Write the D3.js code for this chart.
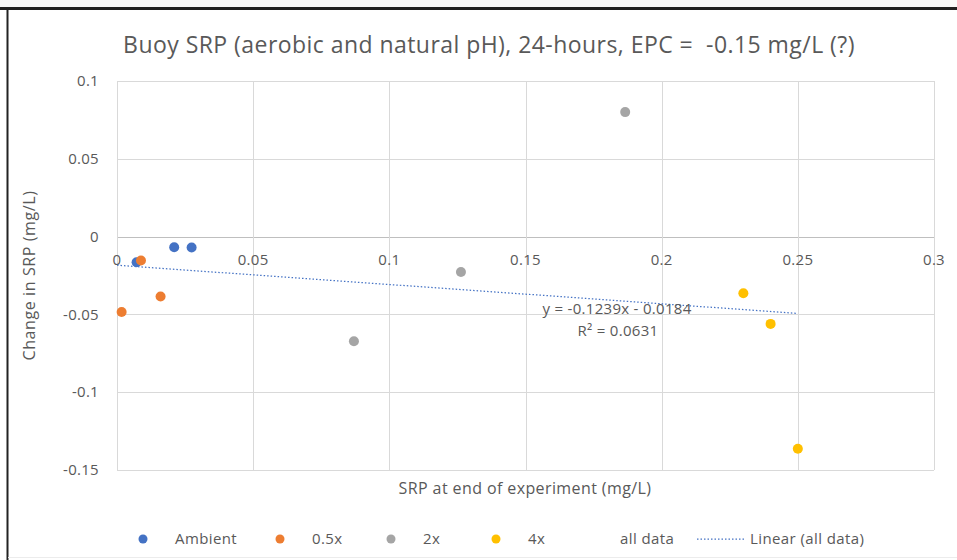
<!DOCTYPE html>
<html>
<head>
<meta charset="utf-8">
<script src="https://cdn.jsdelivr.net/npm/d3@7"></script>
<style>
  body { margin: 0; background: #fff; }
  svg { display: block; }
  text { font-family: "Open Sans", "Noto Sans", sans-serif; fill: #595959; }
</style>
</head>
<body>
<div id="chart"></div>
<script>
// data
const ambientX = [0.0072, 0.0210, 0.0274]
const ambientY = [-0.0165, -0.0068, -0.0070]

const halfX = [0.0088, 0.0160, 0.0017]
const halfY = [-0.0154, -0.0385, -0.0485]

const twoX = [0.0870, 0.1263, 0.1866]
const twoY = [-0.0672, -0.0227, 0.0800]

const fourX = [0.2300, 0.2400, 0.2500]
const fourY = [-0.0364, -0.0561, -0.1364]

const slope = -0.1239
const intercept = -0.0184
const r2 = 0.0631

const xTicks = [0, 0.05, 0.1, 0.15, 0.2, 0.25, 0.3]
const yTicks = [0.1, 0.05, 0, -0.05, -0.1, -0.15]

const series = [
    {name: "Ambient", color: "#4472C4", xs: ambientX, ys: ambientY},
    {name: "0.5x", color: "#ED7D31", xs: halfX, ys: halfY},
    {name: "2x", color: "#A5A5A5", xs: twoX, ys: twoY},
    {name: "4x", color: "#FFC000", xs: fourX, ys: fourY}
]

const width = 957, height = 560

const svg = d3.select("#chart").append("svg")
    .attr("width", width)
    .attr("height", height)

// outer frame (screenshot edges)
svg.append("rect").attr("x", 0).attr("y", 0).attr("width", width).attr("height", 8).attr("fill", "#fafafa")
svg.append("line").attr("x1", 0).attr("x2", width).attr("y1", 8.5).attr("y2", 8.5)
    .attr("stroke", "#222").attr("stroke-width", 3)
svg.append("line").attr("x1", 7.5).attr("x2", 7.5).attr("y1", 8).attr("y2", height)
    .attr("stroke", "#222").attr("stroke-width", 2)
svg.append("line").attr("x1", 8).attr("x2", width).attr("y1", 557.5).attr("y2", 557.5)
    .attr("stroke", "#ececec")

const x = d3.scaleLinear().domain([0, 0.3]).range([117, 934])
const y = d3.scaleLinear().domain([-0.15, 0.1]).range([470, 81])

// gridlines
svg.append("g")
    .selectAll("line").data(yTicks).join("line")
    .attr("x1", x(0)).attr("x2", x(0.3))
    .attr("y1", d => Math.round(y(d)) + 0.5).attr("y2", d => Math.round(y(d)) + 0.5)
    .attr("stroke", d => d === 0 ? "#bfbfbf" : "#d9d9d9")

svg.append("g")
    .selectAll("line").data(xTicks).join("line")
    .attr("x1", d => Math.round(x(d)) + 0.5).attr("x2", d => Math.round(x(d)) + 0.5)
    .attr("y1", y(0.1)).attr("y2", y(-0.15))
    .attr("stroke", "#d9d9d9")

// y tick labels
svg.append("g")
    .selectAll("text").data(yTicks).join("text")
    .attr("x", 99).attr("y", d => y(d))
    .attr("dy", "0.35em")
    .attr("text-anchor", "end")
    .attr("font-size", 15)
    .attr("letter-spacing", 0.3)
    .text(d => String(d))

// x tick labels sit on the zero line, like excel's crossing axis
svg.append("g")
    .selectAll("text").data(xTicks).join("text")
    .attr("x", d => x(d)).attr("y", y(0) + 28)
    .attr("text-anchor", "middle")
    .attr("font-size", 15)
    .attr("letter-spacing", 0.3)
    .text(d => String(d))

// trendline
const xMax = d3.max(series.flatMap(s => s.xs))
svg.append("line")
    .attr("x1", x(0)).attr("y1", y(intercept))
    .attr("x2", x(xMax)).attr("y2", y(slope * xMax + intercept))
    .attr("stroke", "#4472C4")
    .attr("stroke-width", 1.25)
    .attr("stroke-dasharray", "1.5,2")

svg.append("text")
    .attr("x", 617).attr("y", 314)
    .attr("text-anchor", "middle")
    .attr("font-size", 15)
    .attr("letter-spacing", 0.3)
    .text(`y = ${slope}x - ${Math.abs(intercept)}`)

svg.append("text")
    .attr("x", 618).attr("y", 336)
    .attr("text-anchor", "middle")
    .attr("font-size", 15)
    .attr("letter-spacing", 0.3)
    .text(`R² = ${r2}`)

// points
series.forEach(s => {
    svg.append("g")
        .selectAll("circle").data(s.xs.map((v, i) => [v, s.ys[i]])).join("circle")
        .attr("cx", d => x(d[0]))
        .attr("cy", d => y(d[1]))
        .attr("r", 5)
        .attr("fill", s.color)
})

// titles
svg.append("text")
    .attr("x", 489).attr("y", 53)
    .attr("text-anchor", "middle")
    .attr("font-size", 23)
    .attr("letter-spacing", 0.45)
    .style("white-space", "pre")
    .text("Buoy SRP (aerobic and natural pH), 24-hours, EPC =  -0.15 mg/L (?)")

svg.append("text")
    .attr("x", 525).attr("y", 494)
    .attr("text-anchor", "middle")
    .attr("font-size", 16)
    .attr("letter-spacing", 0.4)
    .text("SRP at end of experiment (mg/L)")

svg.append("text")
    .attr("transform", `translate(35,${(y(0.1) + y(-0.15)) / 2}) rotate(-90)`)
    .attr("text-anchor", "middle")
    .attr("font-size", 16)
    .attr("letter-spacing", 0.6)
    .text("Change in SRP (mg/L)")

// legend
const legendY = 539
const legendItems = [
    {type: "dot", color: "#4472C4", label: "Ambient", x: 143},
    {type: "dot", color: "#ED7D31", label: "0.5x", x: 280},
    {type: "dot", color: "#A5A5A5", label: "2x", x: 391},
    {type: "dot", color: "#FFC000", label: "4x", x: 496},
    {type: "none", label: "all data", x: 590},
    {type: "dash", label: "Linear (all data)", x: 697}
]

const legend = svg.append("g")
legendItems.forEach(it => {
    const lbl = legend.append("text").attr("y", legendY).attr("dy", "0.35em")
        .attr("font-size", 15).attr("letter-spacing", 0.4).text(it.label)
    if (it.type === "dot") {
        legend.append("circle").attr("cx", it.x).attr("cy", legendY).attr("r", 4.5).attr("fill", it.color)
        lbl.attr("x", it.x + 32)
    } else if (it.type === "dash") {
        legend.append("line").attr("x1", it.x).attr("x2", it.x + 48)
            .attr("y1", legendY).attr("y2", legendY)
            .attr("stroke", "#4472C4").attr("stroke-width", 1.25).attr("stroke-dasharray", "1.5,2")
        lbl.attr("x", it.x + 53)
    } else {
        lbl.attr("x", it.x + 30)
    }
})
</script>
</body>
</html>
